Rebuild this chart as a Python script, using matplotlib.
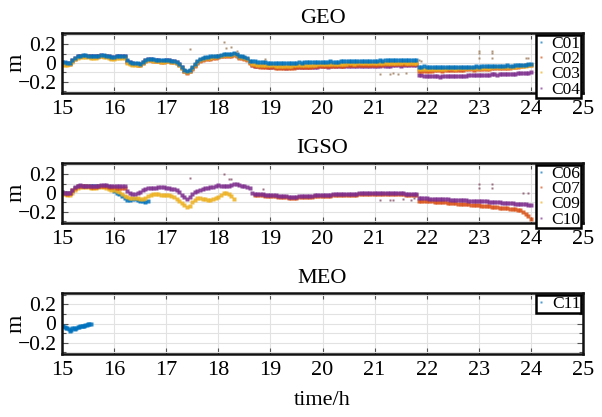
import numpy as np
import matplotlib
matplotlib.use("Agg")
import matplotlib.pyplot as plt
from matplotlib.ticker import MultipleLocator

plt.rcParams['font.family'] = ['Liberation Serif', 'DejaVu Serif']

# Epochs are sampled every 0.05 h
def epochs(start, n, step=0.05):
    return np.round(start + step * np.arange(n), 3)

# ---------------- GEO, 15.00 .. 24.00 h ----------------
geo_c01 = [
    0.01, 0.01, 0.00, 0.00, 0.03, 0.05, 0.07, 0.08, 0.09, 0.09, 0.08, 0.08, 0.07, 0.07, 0.08, 0.09, 0.09, 0.08, 0.07, 0.06,
    0.06, 0.07, 0.07, 0.07, 0.07, 0.03, 0.01, 0.00, 0.00, 0.00, -0.01, 0.01, 0.03, 0.04, 0.04, 0.04, 0.03, 0.03, 0.03, 0.03,
    0.03, 0.03, 0.02, 0.02, 0.01, -0.01, -0.04, -0.07, -0.09, -0.07, -0.04, -0.01, 0.02, 0.04, 0.05, 0.06, 0.06, 0.07, 0.07, 0.07,
    0.08, 0.09, 0.10, 0.10, 0.10, 0.10, 0.11, 0.10, 0.07, 0.07, 0.06, 0.05, 0.02, 0.02, 0.02, 0.01, 0.01, 0.01, 0.01, 0.00,
    0.00, 0.00, 0.00, 0.00, -0.005, 0.00, 0.00, 0.00, 0.00, 0.005, 0.00, 0.01, 0.005, 0.01, 0.01, 0.01, 0.01, 0.01, 0.015, 0.01,
    0.01, 0.015, 0.01, 0.02, 0.015, 0.01, 0.015, 0.02, 0.02, 0.02, 0.02, 0.02, 0.025, 0.02, 0.02, 0.02, 0.025, 0.02, 0.02, 0.025,
    0.02, 0.025, 0.03, 0.025, 0.03, 0.03, 0.03, 0.03, 0.035, 0.03, 0.03, 0.03, 0.035, 0.03, 0.03, 0.035, 0.03, -0.04, -0.04, -0.035,
    -0.04, -0.04, -0.04, -0.045, -0.04, -0.04, -0.04, -0.045, -0.04, -0.04, -0.04, -0.04, -0.045, -0.04, -0.04, -0.04, -0.04, -0.04, -0.04, -0.035,
    -0.04, -0.03, -0.035, -0.03, -0.03, -0.035, -0.03, -0.03, -0.03, -0.03, -0.03, -0.025, -0.03, -0.03, -0.02, -0.025, -0.02, -0.02, -0.02, -0.015,
    -0.01]
geo_c02 = [
    0.00, -0.01, -0.01, -0.01, 0.02, 0.04, 0.06, 0.07, 0.07, 0.07, 0.07, 0.06, 0.06, 0.06, 0.07, 0.08, 0.07, 0.07, 0.06, 0.05,
    0.05, 0.06, 0.06, 0.06, 0.06, 0.01, 0.00, -0.01, -0.01, -0.02, -0.02, 0.00, 0.02, 0.03, 0.03, 0.02, 0.02, 0.02, 0.01, 0.01,
    0.02, 0.02, 0.01, 0.01, 0.00, -0.02, -0.05, -0.09, -0.11, -0.09, -0.06, -0.03, 0.00, 0.02, 0.03, 0.04, 0.04, 0.04, 0.05, 0.05,
    0.06, 0.07, 0.08, 0.08, 0.08, 0.08, 0.09, 0.08, 0.05, 0.05, 0.04, 0.03, 0.00, -0.02, -0.03, -0.03, -0.04, -0.04, -0.04, -0.04,
    -0.04, -0.045, -0.05, -0.05, -0.05, -0.055, -0.05, -0.05, -0.05, -0.05, -0.045, -0.045, -0.04, -0.045, -0.04, -0.04, -0.04, -0.035, -0.035, -0.035,
    -0.03, -0.035, -0.03, -0.03, -0.03, -0.03, -0.025, -0.03, -0.03, -0.025, -0.025, -0.025, -0.025, -0.02, -0.02, -0.02, -0.025, -0.02, -0.02, -0.02,
    -0.02, -0.02, -0.015, -0.02, -0.015, -0.015, -0.015, -0.01, -0.015, -0.01, -0.01, -0.01, -0.015, -0.01, -0.01, -0.01, -0.01, -0.08, -0.08, -0.08,
    -0.08, -0.085, -0.08, -0.075, -0.075, -0.075, -0.08, -0.075, -0.07, -0.07, -0.07, -0.075, -0.07, -0.07, -0.07, -0.065, -0.065, -0.065, -0.07, -0.065,
    -0.065, -0.06, -0.06, -0.06, -0.06, -0.055, -0.055, -0.055, -0.055, -0.05, -0.05, -0.05, -0.05, -0.045, -0.045, -0.04, -0.035, -0.03, -0.025, -0.02,
    -0.02]
geo_c03 = [
    -0.02, -0.02, -0.02, -0.01, 0.01, 0.04, 0.05, 0.06, 0.06, 0.06, 0.06, 0.05, 0.05, 0.05, 0.06, 0.07, 0.06, 0.06, 0.05, 0.04,
    0.04, 0.05, 0.05, 0.05, 0.05, 0.00, -0.01, -0.02, -0.02, -0.02, -0.02, 0.00, 0.02, 0.03, 0.03, 0.02, 0.02, 0.02, 0.01, 0.01,
    0.02, 0.02, 0.01, 0.01, 0.00, -0.02, -0.05, -0.08, -0.10, -0.08, -0.05, -0.02, 0.01, 0.03, 0.04, 0.05, 0.05, 0.05, 0.06, 0.06,
    0.07, 0.08, 0.09, 0.09, 0.09, 0.09, 0.10, 0.09, 0.06, 0.06, 0.05, 0.04, 0.01, -0.01, -0.01, -0.02, -0.02, -0.02, -0.02, -0.02,
    -0.02, -0.025, -0.03, -0.03, -0.03, -0.03, -0.035, -0.03, -0.03, -0.025, -0.025, -0.025, -0.02, -0.025, -0.02, -0.02, -0.02, -0.02, -0.015, -0.015,
    -0.015, -0.015, -0.015, -0.01, -0.01, -0.01, -0.015, -0.01, -0.01, -0.01, -0.005, -0.005, -0.01, -0.005, -0.005, -0.005, 0.00, 0.00, -0.005, 0.00,
    0.00, 0.00, 0.00, 0.005, 0.00, 0.005, 0.005, 0.005, 0.00, 0.005, 0.005, 0.01, 0.005, 0.005, 0.005, 0.005, 0.005, -0.06, -0.06, -0.06,
    -0.06, -0.06, -0.065, -0.06, -0.06, -0.06, -0.06, -0.06, -0.055, -0.055, -0.055, -0.06, -0.055, -0.055, -0.055, -0.055, -0.05, -0.05, -0.05, -0.05,
    -0.05, -0.05, -0.05, -0.05, -0.05, -0.045, -0.045, -0.045, -0.045, -0.045, -0.04, -0.04, -0.04, -0.04, -0.04, -0.035, -0.035, -0.03, -0.03, -0.025,
    -0.025]
geo_c04 = [
    0.01, 0.005, 0.00, 0.00, 0.03, 0.05, 0.07, 0.08, 0.08, 0.08, 0.08, 0.07, 0.07, 0.07, 0.08, 0.09, 0.08, 0.08, 0.07, 0.06,
    0.06, 0.07, 0.07, 0.07, 0.07, 0.02, 0.01, 0.00, -0.01, -0.01, -0.01, 0.01, 0.03, 0.04, 0.04, 0.03, 0.03, 0.03, 0.02, 0.02,
    0.03, 0.03, 0.02, 0.02, 0.01, -0.01, -0.04, -0.08, -0.10, -0.08, -0.05, -0.02, 0.01, 0.03, 0.04, 0.05, 0.05, 0.05, 0.06, 0.06,
    0.07, 0.08, 0.09, 0.09, 0.09, 0.09, 0.10, 0.09, 0.06, 0.06, 0.05, 0.04, 0.01, -0.02, -0.03, -0.03, -0.03, -0.035, -0.035, -0.04,
    -0.04, -0.04, -0.04, -0.045, -0.045, -0.045, -0.05, -0.045, -0.045, -0.04, -0.04, -0.045, -0.04, -0.04, -0.04, -0.04, -0.04, -0.04, -0.04, -0.035,
    -0.035, -0.035, -0.04, -0.035, -0.035, -0.035, -0.035, -0.03, -0.03, -0.035, -0.03, -0.03, -0.03, -0.03, -0.03, -0.035, -0.03, -0.03, -0.03, -0.03,
    -0.03, -0.03, -0.03, -0.025, -0.03, -0.03, -0.03, -0.025, -0.025, -0.025, -0.03, -0.025, -0.025, -0.025, -0.025, -0.025, -0.025, -0.13, -0.13, -0.135,
    -0.135, -0.135, -0.14, -0.14, -0.14, -0.145, -0.14, -0.14, -0.14, -0.14, -0.135, -0.135, -0.14, -0.135, -0.135, -0.135, -0.13, -0.13, -0.13, -0.13,
    -0.13, -0.125, -0.125, -0.125, -0.125, -0.12, -0.12, -0.125, -0.12, -0.12, -0.12, -0.115, -0.115, -0.115, -0.115, -0.11, -0.11, -0.11, -0.105, -0.105,
    -0.10]
geo_out_t = [17.45, 18.1, 18.15, 18.25, 18.35, 18.9, 21.1, 21.3, 21.35, 21.45, 21.6, 21.85, 21.9,
             23.0, 23.0, 23.0, 23.25, 23.25, 23.25, 23.9, 23.95]
geo_out_v = [0.15, 0.22, 0.16, 0.17, 0.13, 0.04, -0.12, -0.12, -0.11, -0.12, -0.11, 0.03, 0.02,
             0.13, 0.11, 0.05, 0.13, 0.11, 0.05, 0.05, 0.05]

# ---------------- IGSO ----------------
igso_c06 = [
    0.01, 0.005, 0.00, 0.00, 0.02, 0.05, 0.07, 0.08, 0.08, 0.08, 0.08, 0.07, 0.07, 0.07, 0.07, 0.08, 0.08, 0.07, 0.06, 0.05,
    0.02, 0.00, -0.01, -0.03, -0.05, -0.07, -0.07, -0.06, -0.06, -0.07, -0.08, -0.09, -0.10, -0.09]
igso_c07_a = [
    0.00, 0.00, -0.01, 0.00, 0.03, 0.05, 0.07, 0.08, 0.07, 0.07, 0.07, 0.06, 0.06, 0.06, 0.07, 0.08, 0.07, 0.07, 0.06, 0.06,
    0.06, 0.05, 0.05, 0.05, 0.05]
igso_c07_b = [
    -0.02, -0.02, -0.025, -0.025, -0.03, -0.03,
    -0.03, -0.035, -0.035, -0.04, -0.04, -0.045, -0.045, -0.05, -0.05, -0.05, -0.05, -0.045, -0.045, -0.045, -0.04, -0.04, -0.04, -0.035, -0.035, -0.035,
    -0.03, -0.03, -0.03, -0.03, -0.025, -0.025, -0.025, -0.025, -0.02, -0.02, -0.02, -0.02, -0.02, -0.02, -0.015, -0.015, -0.015, -0.015, -0.015, -0.015,
    -0.015, -0.015, -0.015, -0.01, -0.01, -0.01, -0.01, -0.015, -0.015, -0.015, -0.015, -0.015, -0.02, -0.02, -0.02, -0.02, -0.02, -0.08, -0.085, -0.085,
    -0.09, -0.09, -0.09, -0.095, -0.095, -0.10, -0.10, -0.10, -0.105, -0.105, -0.11, -0.11, -0.115, -0.115, -0.12, -0.12, -0.12, -0.125, -0.125, -0.13,
    -0.13, -0.135, -0.135, -0.14, -0.14, -0.145, -0.15, -0.15, -0.155, -0.16, -0.16, -0.165, -0.17, -0.17, -0.175, -0.18, -0.185, -0.20, -0.22, -0.24,
    -0.28]
igso_c09 = [
    -0.01, -0.015, -0.02, -0.02, 0.00, 0.03, 0.05, 0.06, 0.06, 0.06, 0.06, 0.05, 0.05, 0.05, 0.06, 0.06, 0.06, 0.05, 0.04, 0.03,
    0.03, 0.02, 0.01, -0.01, -0.03, -0.04, -0.05, -0.05, -0.05, -0.05, -0.06, -0.06, -0.05, -0.03, -0.02, -0.01, -0.01, -0.015, -0.02, -0.02,
    -0.02, -0.02, -0.03, -0.04, -0.06, -0.08, -0.11, -0.13, -0.15, -0.14, -0.10, -0.07, -0.05, -0.05, -0.06, -0.06, -0.07, -0.07, -0.06, -0.05,
    -0.04, -0.02, 0.00, 0.00, -0.01, -0.03, -0.06]
igso_c10 = [
    0.01, 0.005, 0.00, 0.00, 0.03, 0.06, 0.08, 0.09, 0.08, 0.08, 0.08, 0.07, 0.07, 0.08, 0.08, 0.09, 0.09, 0.09, 0.08, 0.07,
    0.07, 0.07, 0.07, 0.07, 0.07, 0.02, 0.00, -0.01, -0.01, 0.00, 0.01, 0.03, 0.04, 0.05, 0.05, 0.05, 0.05, 0.06, 0.06, 0.06,
    0.05, 0.05, 0.04, 0.04, 0.03, 0.01, -0.02, -0.04, -0.06, -0.04, -0.01, 0.01, 0.02, 0.03, 0.04, 0.05, 0.05, 0.06, 0.06, 0.07,
    0.09, 0.08, 0.07, 0.07, 0.08, 0.09, 0.10, 0.10, 0.09, 0.08, 0.07, 0.06, 0.05, 0.00, -0.01, -0.01, -0.015, -0.015, -0.02, -0.02,
    -0.02, -0.025, -0.025, -0.03, -0.03, -0.035, -0.035, -0.04, -0.04, -0.04, -0.04, -0.035, -0.035, -0.035, -0.03, -0.03, -0.03, -0.025, -0.025, -0.025,
    -0.02, -0.02, -0.02, -0.02, -0.015, -0.015, -0.015, -0.015, -0.01, -0.01, -0.01, -0.01, -0.01, -0.01, -0.005, -0.005, -0.005, -0.005, -0.005, -0.005,
    -0.005, -0.005, -0.005, 0.00, 0.00, 0.00, 0.00, -0.005, -0.005, -0.005, -0.005, -0.005, -0.01, -0.01, -0.01, -0.01, -0.01, -0.05, -0.055, -0.055,
    -0.055, -0.06, -0.06, -0.06, -0.06, -0.065, -0.065, -0.065, -0.065, -0.07, -0.07, -0.07, -0.07, -0.075, -0.075, -0.075, -0.08, -0.08, -0.08, -0.085,
    -0.085, -0.09, -0.09, -0.09, -0.095, -0.095, -0.10, -0.10, -0.10, -0.105, -0.105, -0.11, -0.11, -0.11, -0.115, -0.115, -0.12, -0.12, -0.12, -0.125,
    -0.13]
igso_out_t = [17.45, 18.1, 18.2, 18.25, 18.85, 21.1, 21.3, 21.35, 21.55, 21.7, 21.75,
              23.0, 23.0, 23.25, 23.25, 23.85, 23.95]
igso_out_v = [0.16, 0.20, 0.15, 0.15, 0.04, -0.07, -0.07, -0.07, -0.06, -0.07, -0.05,
              0.10, 0.05, 0.10, 0.05, 0.00, 0.00]

# ---------------- MEO (0.025 h) ----------------
meo_c11 = [-0.03, -0.03, -0.04, -0.05, -0.05, -0.06, -0.08, -0.07, -0.05, -0.05, -0.06, -0.05,
           -0.04, -0.04, -0.03, -0.03, -0.03, -0.03, -0.02, -0.02, -0.01, -0.01, 0.00]

BLUE, ORANGE, YELLOW, PURPLE = '#0072BD', '#D95319', '#EDB120', '#7E2F8E'

W, H = 602, 417
fig = plt.figure(figsize=(W / 100, H / 100), dpi=100)


def make_axes(top_px, bottom_px, title):
    left, right = 62, 583
    ax = fig.add_axes([left / W, 1 - bottom_px / H, (right - left) / W,
                       (bottom_px - top_px) / H])
    ax.set_xlim(15, 25)
    ax.set_ylim(-0.32, 0.32)
    ax.set_xticks(range(15, 26))
    ax.set_yticks([-0.2, 0, 0.2])
    ax.set_yticklabels(['\u22120.2', '0', '0.2'])
    ax.yaxis.set_minor_locator(MultipleLocator(0.1))
    ax.grid(True, which='major', color='#e2e2e2', lw=0.8)
    ax.grid(True, which='minor', axis='y', color='#e2e2e2', lw=0.8)
    ax.set_axisbelow(True)
    ax.tick_params(which='both', direction='in', top=True, right=True,
                   length=4, width=0.8, color='#555555', pad=5)
    ax.tick_params(axis='x', labelsize=16)
    ax.tick_params(axis='y', labelsize=15.5, pad=4)
    ax.tick_params(which='minor', length=3)
    for s in ax.spines.values():
        s.set_linewidth(1.8)
        s.set_color('#111111')
    ax.set_title(title, fontsize=16, pad=7)
    ax.set_ylabel('m', fontsize=17)
    ax.yaxis.set_label_coords(-0.068, 0.5)
    return ax


def dots(ax, t, v, c, label=None, ms=2.2):
    ax.plot(t, v, ls='none', marker='s', ms=ms, mec='none', mfc=c,
            alpha=0.85, label=label)


def legend(ax, names, colors):
    for name, col in zip(names, colors):
        ax.plot([], [], ls='none', marker='s', ms=1.8, mec='none', mfc=col,
                alpha=0.7, label=name)
    lg = ax.legend(loc='upper right', fontsize=12.5, frameon=True, fancybox=False,
                   borderaxespad=0.1, handlelength=0.5, handletextpad=0.35,
                   labelspacing=-0.05, borderpad=0.05)
    lg.get_frame().set_edgecolor('black')
    lg.get_frame().set_linewidth(1.8)
    lg.get_frame().set_alpha(1)


ax1 = make_axes(33, 93, 'GEO')
t_geo = epochs(15.0, len(geo_c01))
dots(ax1, t_geo, geo_c04, PURPLE)
dots(ax1, t_geo, geo_c02, ORANGE)
dots(ax1, t_geo, geo_c03, YELLOW)
dots(ax1, t_geo, geo_c01, BLUE)
dots(ax1, geo_out_t, geo_out_v, '#a08060', ms=1.6)
legend(ax1, ['C01', 'C02', 'C03', 'C04'], [BLUE, ORANGE, YELLOW, PURPLE])

ax2 = make_axes(163, 223, 'IGSO')
dots(ax2, epochs(15.0, len(igso_c06)), igso_c06, BLUE)
dots(ax2, epochs(15.0, len(igso_c09)), igso_c09, YELLOW)
dots(ax2, epochs(15.0, len(igso_c07_a)), igso_c07_a, ORANGE)
dots(ax2, epochs(18.7, len(igso_c07_b)), igso_c07_b, ORANGE)
dots(ax2, epochs(15.0, len(igso_c10)), igso_c10, PURPLE)
dots(ax2, igso_out_t, igso_out_v, '#8a5a70', ms=1.6)
legend(ax2, ['C06', 'C07', 'C09', 'C10'], [BLUE, ORANGE, YELLOW, PURPLE])

ax3 = make_axes(293, 354, 'MEO')
dots(ax3, epochs(15.0, len(meo_c11), 0.025), meo_c11, BLUE)
legend(ax3, ['C11'], [BLUE])
ax3.set_xlabel('time/h', fontsize=16, labelpad=8)

fig.savefig('out.png', dpi=100)
